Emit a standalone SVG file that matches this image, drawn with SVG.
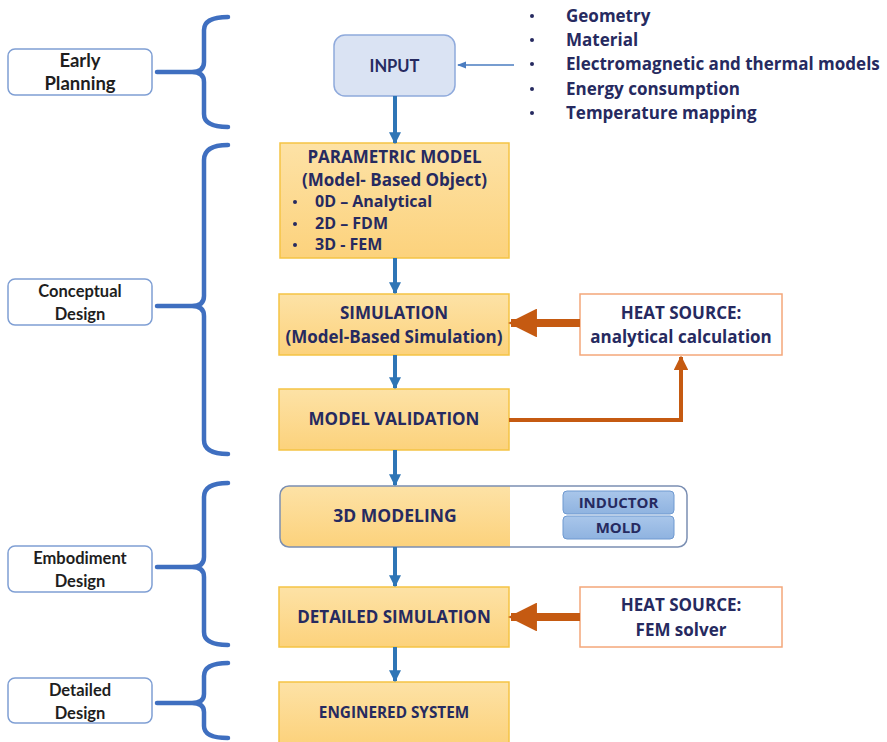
<svg xmlns="http://www.w3.org/2000/svg" width="887" height="742" viewBox="0 0 887 742">
  <defs>
    <linearGradient id="orangeFill" x1="0" y1="0" x2="0" y2="1">
      <stop offset="0" stop-color="#fde2a6"/>
      <stop offset="1" stop-color="#fcd27c"/>
    </linearGradient>
    <linearGradient id="tagFill" x1="0" y1="0" x2="0" y2="1">
      <stop offset="0" stop-color="#a9c6ea"/>
      <stop offset="1" stop-color="#8fb3e0"/>
    </linearGradient>
    <marker id="blueHead" viewBox="0 0 10 10" refX="9" refY="5" markerWidth="3" markerHeight="3" orient="auto" markerUnits="strokeWidth">
      <path d="M0,0 L10,5 L0,10 Z" fill="#2e75b6"/>
    </marker>
    <marker id="thinHead" viewBox="0 0 10 10" refX="9" refY="5" markerWidth="7" markerHeight="7" orient="auto" markerUnits="strokeWidth">
      <path d="M0,1 L10,5 L0,9 Z" fill="#4a7cc0"/>
    </marker>
    <marker id="orangeHead" viewBox="0 0 10 10" refX="9" refY="5" markerWidth="3.6" markerHeight="3.6" orient="auto" markerUnits="strokeWidth">
      <path d="M0,0 L10,5 L0,10 Z" fill="#c55a11"/>
    </marker>
  </defs>
  <style>
    text { font-family: "Open Sans", "Liberation Sans", sans-serif; font-weight: bold; }
    .stage { fill: #ffffff; stroke: #7f9fd4; stroke-width: 1.5; }
    .stageTxt { font-family: Lato, "Liberation Sans", sans-serif; font-size: 16.5px; fill: #1e1e1e; text-anchor: middle; }
    .big { font-size: 18.5px; }
    .brace { fill: none; stroke: #3f6fc0; stroke-width: 4.5; stroke-linecap: round; stroke-linejoin: round; }
    .step { fill: url(#orangeFill); stroke: #f5c344; stroke-width: 1.5; }
    .stepTxt { font-size: 17px; fill: #262a60; text-anchor: middle; }
    .item { font-size: 16px; fill: #262a60; }
    .dot { fill: #262a60; }
    .listTxt { font-size: 17px; fill: #262a60; }
    .inputTxt { font-family: Lato, "Liberation Sans", sans-serif; font-size: 16.5px; fill: #262a60; text-anchor: middle; }
    .heat { fill: #ffffff; stroke: #f4a77a; stroke-width: 1.5; }
    .tag { fill: url(#tagFill); stroke: #6f99d0; stroke-width: 1; }
    .tagTxt { font-size: 15px; fill: #262a60; text-anchor: middle; }
    .flow { fill: none; stroke: #2e75b6; stroke-width: 4; marker-end: url(#blueHead); }
    .feed { fill: none; stroke: #c55a11; stroke-width: 8; marker-end: url(#orangeHead); }
  </style>

  <!-- design-stage labels with braces -->
  <g id="early-planning">
    <rect class="stage" x="8" y="49" width="144" height="46" rx="7"/>
    <text class="stageTxt big" x="80" y="67">Early</text>
    <text class="stageTxt big" x="80" y="90">Planning</text>
    <path class="brace" d="M228,17 Q204,17 204,30 L204,62 Q204,72 192,72 Q204,72 204,82 L204,114 Q204,127 228,127 M157,72 L192,72"/>
  </g>
  <g id="conceptual-design">
    <rect class="stage" x="8" y="279" width="144" height="46" rx="7"/>
    <text class="stageTxt" x="80" y="297">Conceptual</text>
    <text class="stageTxt" x="80" y="320">Design</text>
    <path class="brace" d="M228,145 Q204,145 204,160 L204,296 Q204,306 192,306 Q204,306 204,316 L204,440 Q204,454 228,454 M157,306 L192,306"/>
  </g>
  <g id="embodiment-design">
    <rect class="stage" x="8" y="546" width="144" height="46" rx="7"/>
    <text class="stageTxt" x="80" y="564">Embodiment</text>
    <text class="stageTxt" x="80" y="587">Design</text>
    <path class="brace" d="M228,483 Q204,483 204,497 L204,557 Q204,567 192,567 Q204,567 204,577 L204,632 Q204,645 228,645 M157,567 L192,567"/>
  </g>
  <g id="detailed-design">
    <rect class="stage" x="8" y="678" width="144" height="45" rx="7"/>
    <text class="stageTxt" x="80" y="696">Detailed</text>
    <text class="stageTxt" x="80" y="719">Design</text>
    <path class="brace" d="M228,663 Q204,663 204,676 L204,694 Q204,703 192,703 Q204,703 204,712 L204,726 Q204,738 228,738 M157,703 L192,703"/>
  </g>

  <!-- process steps -->
  <g id="input">
    <rect x="334" y="35" width="121" height="61" rx="11" fill="#dae3f3" stroke="#8faadc" stroke-width="1.5"/>
    <text class="inputTxt" x="394.5" y="72">INPUT</text>
  </g>
  <g id="input-list">
    <circle class="dot" cx="532" cy="16" r="2"/>
    <circle class="dot" cx="532" cy="40" r="2"/>
    <circle class="dot" cx="532" cy="64" r="2"/>
    <circle class="dot" cx="532" cy="89" r="2"/>
    <circle class="dot" cx="532" cy="113" r="2"/>
    <text class="listTxt" x="566" y="22">Geometry</text>
    <text class="listTxt" x="566" y="46">Material</text>
    <text class="listTxt" x="566" y="70">Electromagnetic and thermal models</text>
    <text class="listTxt" x="566" y="95">Energy consumption</text>
    <text class="listTxt" x="566" y="119">Temperature mapping</text>
  </g>
  <g id="parametric-model">
    <rect class="step" x="280" y="143" width="229" height="115"/>
    <text class="stepTxt" x="394.5" y="163">PARAMETRIC MODEL</text>
    <text class="stepTxt" x="394.5" y="186">(Model- Based Object)</text>
    <circle class="dot" cx="295" cy="202" r="2"/>
    <circle class="dot" cx="295" cy="224" r="2"/>
    <circle class="dot" cx="295" cy="245" r="2"/>
    <text class="item" x="315" y="207">0D – Analytical</text>
    <text class="item" x="315" y="229">2D – FDM</text>
    <text class="item" x="315" y="250">3D - FEM</text>
  </g>
  <g id="simulation">
    <rect class="step" x="279" y="294" width="230" height="61"/>
    <text class="stepTxt" x="394" y="319">SIMULATION</text>
    <text class="stepTxt" x="394" y="343">(Model-Based Simulation)</text>
  </g>
  <g id="model-validation">
    <rect class="step" x="279" y="389" width="230" height="61"/>
    <text class="stepTxt" x="394" y="425">MODEL VALIDATION</text>
  </g>
  <g id="heat-source-analytical">
    <rect class="heat" x="580" y="294" width="202" height="61"/>
    <text class="stepTxt" x="681" y="319">HEAT SOURCE:</text>
    <text class="stepTxt" x="681" y="343">analytical calculation</text>
  </g>
  <g id="modeling-3d">
    <rect x="280" y="486" width="407" height="61" rx="9" fill="#ffffff"/>
    <path d="M289,486 L510,486 L510,547 L289,547 Q280,547 280,538 L280,495 Q280,486 289,486 Z" fill="url(#orangeFill)"/>
    <rect x="280" y="486" width="407" height="61" rx="9" fill="none" stroke="#7b8fb3" stroke-width="1.5"/>
    <text class="stepTxt" x="395" y="522" style="font-size:17.5px">3D MODELING</text>
    <rect class="tag" x="563" y="491" width="111" height="23" rx="4"/>
    <rect class="tag" x="563" y="516" width="111" height="23" rx="4"/>
    <text class="tagTxt" x="618.5" y="508">INDUCTOR</text>
    <text class="tagTxt" x="618.5" y="533">MOLD</text>
  </g>
  <g id="detailed-simulation">
    <rect class="step" x="279" y="587" width="230" height="60"/>
    <text class="stepTxt" x="394" y="623">DETAILED SIMULATION</text>
  </g>
  <g id="heat-source-fem">
    <rect class="heat" x="580" y="587" width="202" height="60"/>
    <text class="stepTxt" x="681" y="611">HEAT SOURCE:</text>
    <text class="stepTxt" x="681" y="636">FEM solver</text>
  </g>
  <g id="engineered-system">
    <rect class="step" x="279" y="682" width="230" height="62"/>
    <text class="stepTxt" x="394" y="718" style="font-size:15.3px">ENGINERED SYSTEM</text>
  </g>

  <!-- connectors -->
  <g id="connectors">
    <path d="M514,65 L458,65" fill="none" stroke="#4a7cc0" stroke-width="1.3" marker-end="url(#thinHead)"/>
    <path class="flow" d="M395,96 L395,143"/>
    <path class="flow" d="M395,258 L395,293"/>
    <path class="flow" d="M395,355 L395,388"/>
    <path class="flow" d="M395,450 L395,485"/>
    <path class="flow" d="M395,547 L395,586"/>
    <path class="flow" d="M395,647 L395,681"/>
    <path class="feed" d="M580,323 L511,323"/>
    <path class="feed" d="M580,617 L511,617"/>
    <path d="M509,420 L681,420 L681,357" fill="none" stroke="#c55a11" stroke-width="4" marker-end="url(#orangeHead)"/>
  </g>
</svg>
